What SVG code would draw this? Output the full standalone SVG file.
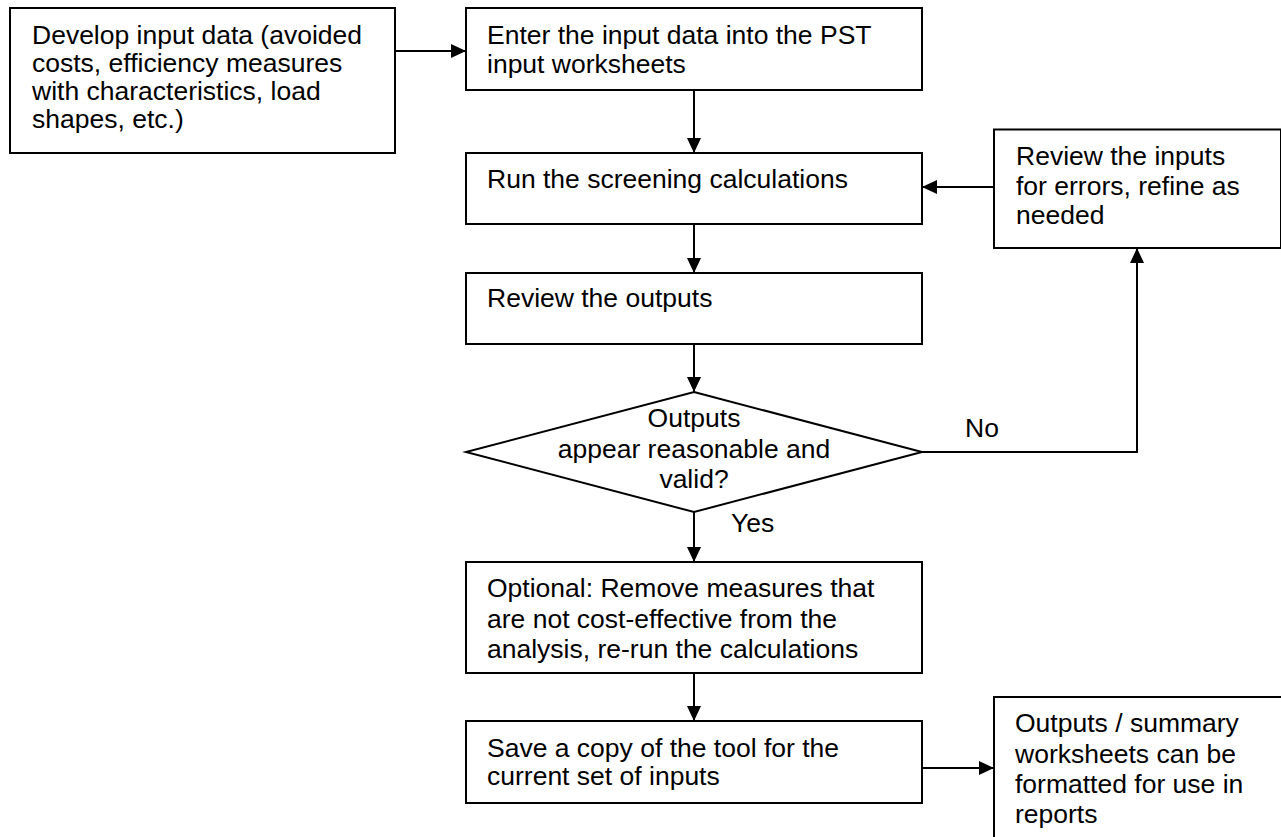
<svg xmlns="http://www.w3.org/2000/svg" width="1281" height="837" viewBox="0 0 1281 837">
<style>
.box{fill:#fff;stroke:#000;stroke-width:2}
.t{font-family:"Liberation Sans",Arial,sans-serif;font-size:26.5px;fill:#000}
.c{text-anchor:middle}
.ln{fill:none;stroke:#000;stroke-width:2}
</style>
<defs>
<marker id="ah" markerUnits="userSpaceOnUse" markerWidth="16" markerHeight="15" refX="15" refY="7" orient="auto">
<path d="M0,0 L15,7 L0,14 z" fill="#000"/>
</marker>
</defs>
<rect width="1281" height="837" fill="#fff"/>
<g id="connectors">
<path class="ln" d="M395,51 L466,51" marker-end="url(#ah)"/>
<path class="ln" d="M694,90 L694,153" marker-end="url(#ah)"/>
<path class="ln" d="M694,224 L694,273" marker-end="url(#ah)"/>
<path class="ln" d="M694,344 L694,392" marker-end="url(#ah)"/>
<path class="ln" d="M922,452 L1137,452 L1137,248" marker-end="url(#ah)"/>
<path class="ln" d="M994,187 L922,187" marker-end="url(#ah)"/>
<path class="ln" d="M694,512 L694,562" marker-end="url(#ah)"/>
<path class="ln" d="M694,673 L694,721" marker-end="url(#ah)"/>
<path class="ln" d="M922,768 L994,768" marker-end="url(#ah)"/>
<text class="t" x="965" y="437">No</text>
<text class="t" x="731" y="532">Yes</text>
</g>
<g id="develop">
<rect class="box" x="10" y="8" width="385" height="145"/>
<text class="t" x="32" y="43.5">Develop input data (avoided</text>
<text class="t" x="32" y="71.8">costs, efficiency measures</text>
<text class="t" x="32" y="100">with characteristics, load</text>
<text class="t" x="32" y="128.3">shapes, etc.)</text>
</g>
<g id="enter">
<rect class="box" x="466" y="8" width="456" height="82"/>
<text class="t" x="487" y="44">Enter the input data into the PST</text>
<text class="t" x="487" y="72.7">input worksheets</text>
</g>
<g id="run">
<rect class="box" x="466" y="153" width="456" height="71"/>
<text class="t" x="487" y="187.7">Run the screening calculations</text>
</g>
<g id="review-outputs">
<rect class="box" x="466" y="273" width="456" height="71"/>
<text class="t" x="487" y="306.7">Review the outputs</text>
</g>
<g id="review-inputs">
<rect class="box" x="994" y="129.5" width="287" height="118.5"/>
<text class="t" x="1016" y="165">Review the inputs</text>
<text class="t" x="1016" y="194.5">for errors, refine as</text>
<text class="t" x="1016" y="223.5">needed</text>
</g>
<g id="decision">
<polygon class="box" points="694,392 922,452 694,512 466,452"/>
<text class="t c" x="694" y="426.7">Outputs</text>
<text class="t c" x="694" y="458">appear reasonable and</text>
<text class="t c" x="694" y="487.7">valid?</text>
</g>
<g id="optional">
<rect class="box" x="466" y="562" width="456" height="111"/>
<text class="t" x="487" y="597">Optional: Remove measures that</text>
<text class="t" x="487" y="627.7">are not cost-effective from the</text>
<text class="t" x="487" y="658">analysis, re-run the calculations</text>
</g>
<g id="save">
<rect class="box" x="466" y="721" width="456" height="82"/>
<text class="t" x="487" y="756.7">Save a copy of the tool for the</text>
<text class="t" x="487" y="785">current set of inputs</text>
</g>
<g id="outputs-summary">
<rect class="box" x="994" y="697" width="290" height="150"/>
<text class="t" x="1015" y="731.7">Outputs / summary</text>
<text class="t" x="1015" y="763">worksheets can be</text>
<text class="t" x="1015" y="793">formatted for use in</text>
<text class="t" x="1015" y="822.7">reports</text>
</g>
</svg>
